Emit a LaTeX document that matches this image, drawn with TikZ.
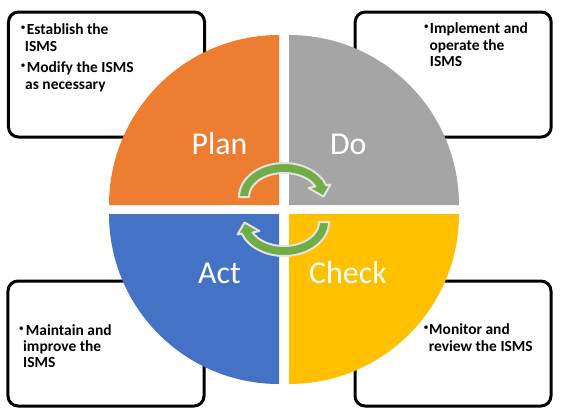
\documentclass[tikz,border=0pt]{standalone}
\usepackage{fontspec}
\setmainfont{Carlito}
\definecolor{planc}{HTML}{ED7D31}
\definecolor{doc}{HTML}{A5A5A5}
\definecolor{actc}{HTML}{4472C4}
\definecolor{checkc}{HTML}{FFC000}
\definecolor{arrowc}{HTML}{70AD47}
\definecolor{arrowline}{HTML}{E2E2E2}
\tikzset{
  infobox/.style={draw=black, line width=3bp, rounded corners=10bp, fill=white,
    minimum width=196bp, minimum height=125bp, inner sep=0pt, outer sep=0pt},
  quadlabel/.style={text=white, font=\fontsize{32}{38}\selectfont, anchor=base, inner sep=0pt},
  itemtext/.style={font=\bfseries\fontsize{15.5}{17}\selectfont, anchor=base west, inner sep=0pt},
  itembullet/.style={font=\fontsize{10}{12}\selectfont, anchor=center, inner sep=0pt},
  cyclearrow/.style={fill=arrowc, draw=arrowline, line width=2bp, line join=round},
}
\begin{document}
\begin{tikzpicture}[x=1bp,y=-1bp]
\useasboundingbox (0,0) rectangle (572,412);
\fill[white] (0,0) rectangle (572,412);
% boxes
\node[infobox] (tlbox) at (106.5,74.5) {};
\node[infobox] (trbox) at (453.2,74.5) {};
\node[infobox] (blbox) at (106,343.5) {};
\node[infobox] (brbox) at (453,343.5) {};
% quarters
\fill[planc] (279,205) -- (109,205) arc[start angle=180,end angle=270,radius=170] -- cycle;
\fill[doc] (289,205) -- (289,35) arc[start angle=270,end angle=360,radius=170] -- cycle;
\fill[checkc] (289,214) -- (459,214) arc[start angle=0,end angle=90,radius=170] -- cycle;
\fill[actc] (279,214) -- (279,384) arc[start angle=90,end angle=180,radius=170] -- cycle;
% cycle arrows
\path[cyclearrow] (239,197) arc[start angle=180,end angle=340,x radius=45,y radius=34]
  -- (330.5,184.5) -- (323.5,196.5) -- (308.5,188) -- (315.46,186.48)
  arc[start angle=334,end angle=180,x radius=35,y radius=24] -- cycle;
\begin{scope}[rotate around={180:(284,209.5)}]
\path[cyclearrow] (239,197) arc[start angle=180,end angle=340,x radius=45,y radius=34]
  -- (330.5,184.5) -- (323.5,196.5) -- (308.5,188) -- (315.46,186.48)
  arc[start angle=334,end angle=180,x radius=35,y radius=24] -- cycle;
\end{scope}
% labels
\node[quadlabel] (plan) at (219.5,154.3) {Plan};
\node[quadlabel] (do) at (348.3,154.3) {Do};
\node[quadlabel] (act) at (219.5,283) {Act};
\node[quadlabel] (check) at (348,283) {Check};
% top-left text
\node[itembullet] (tlb1) at (23.1,28.6) {•};
\node[itemtext] (tl1) at (26.7,34.3) {Establish the};
\node[itemtext] (tl2) at (24.7,51) {ISMS};
\node[itembullet] (tlb2) at (23.1,66.6) {•};
\node[itemtext] (tl3) at (26.7,72.3) {Modify the ISMS};
\node[itemtext] (tl4) at (25,89) {as necessary};
% top-right text
\node[itembullet] (trb1) at (426.4,27.6) {•};
\node[itemtext] (tr1) at (429.7,33.3) {Implement and};
\node[itemtext] (tr2) at (429.4,50) {operate the};
\node[itemtext] (tr3) at (429.7,66.7) {ISMS};
% bottom-left text
\node[itembullet] (blb1) at (21.4,329.3) {•};
\node[itemtext] (bl1) at (25.7,335) {Maintain and};
\node[itemtext] (bl2) at (23,351.7) {improve the};
\node[itemtext] (bl3) at (23,367.7) {ISMS};
% bottom-right text
\node[itembullet] (brb1) at (426,328.3) {•};
\node[itemtext] (br1) at (429,334) {Monitor and};
\node[itemtext] (br2) at (428.6,351) {review the ISMS};
\end{tikzpicture}
\end{document}
